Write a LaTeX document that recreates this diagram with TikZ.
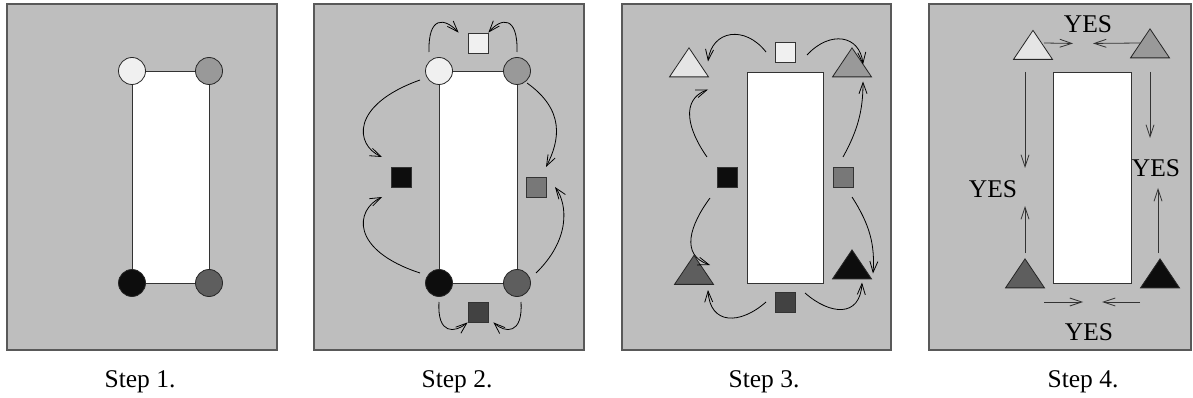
\documentclass[tikz,border=0pt]{standalone}
\usepackage{fontspec}
\setmainfont{Liberation Serif}
\usetikzlibrary{arrows.meta,calc,shapes.geometric}
\pgfdeclarelayer{bg}\pgfdeclarelayer{mid}\pgfsetlayers{bg,mid,main}
\definecolor{panel}{gray}{0.745}
\definecolor{border}{gray}{0.35}
\definecolor{cwhite}{gray}{0.94}
\definecolor{cgray}{gray}{0.6}
\definecolor{cdark}{gray}{0.37}
\definecolor{cblack}{gray}{0.05}
\definecolor{sqgray}{gray}{0.47}
\definecolor{sqdark}{gray}{0.26}
\definecolor{trilight}{gray}{0.9}
\tikzset{
  circ/.style={circle, draw=black!85, line width=0.8pt, minimum size=27pt, inner sep=0pt},
  sq/.style={rectangle, draw=black!80, line width=0.8pt, minimum size=20pt, inner sep=0pt},
  tri/.style={isosceles triangle, isosceles triangle stretches, shape border rotate=90,
    minimum width=39pt, minimum height=29pt, inner sep=0pt, draw=black!85, line width=0.8pt},
  panelbox/.style={fill=panel, draw=border, line width=1.2pt},
  hole/.style={fill=white, draw=black!80, line width=0.9pt},
  arr/.style={-{Straight Barb[length=11pt,width=8pt]}, line width=0.8pt},
  yesarr/.style={-{Straight Barb[length=12pt,width=8pt]}, line width=0.8pt, draw=black!80},
  lbl/.style={font=\fontsize{25.5}{30}\selectfont, anchor=base, inner sep=0pt},
}
\begin{document}
\begin{tikzpicture}[x=1pt,y=-1pt]
\useasboundingbox (0,0) rectangle (1193,398);
% panels
\begin{pgfonlayer}{bg}
\draw[panelbox] (7,4) rectangle (277,350);
\draw[panelbox] (314,4) rectangle (584,350);
\draw[panelbox] (622,4) rectangle (891,350);
\draw[panelbox] (929,4) rectangle (1191,350);
\end{pgfonlayer}
% captions
\node[lbl] (c1) at (140,387) {Step 1.};
\node[lbl] (c2) at (457,387) {Step 2.};
\node[lbl] (c3) at (764,387) {Step 3.};
\node[lbl] (c4) at (1083,387) {Step 4.};

% ---------- Step 1
\node[circ, fill=cwhite] (w1) at (132,71) {};
\node[circ, fill=cgray]  (g1) at (209,71) {};
\node[circ, fill=cblack] (b1) at (132,283) {};
\node[circ, fill=cdark]  (d1) at (209,283) {};
\begin{pgfonlayer}{mid}
\draw[hole] (w1.center) -- (g1.center) -- (d1.center) -- (b1.center) -- cycle;
\end{pgfonlayer}

% ---------- Step 2
\node[circ, fill=cwhite] (w2) at (439,71) {};
\node[circ, fill=cgray]  (g2) at (517,71) {};
\node[circ, fill=cblack] (b2) at (439,283) {};
\node[circ, fill=cdark]  (d2) at (517,283) {};
\begin{pgfonlayer}{mid}
\draw[hole] (w2.center) -- (g2.center) -- (d2.center) -- (b2.center) -- cycle;
\end{pgfonlayer}
\node[sq, fill=cwhite] (s2t) at (478,43) {};
\node[sq, fill=cblack] (s2l) at (401,177) {};
\node[sq, fill=sqgray] (s2r) at (536,187) {};
\node[sq, fill=sqdark] (s2b) at (478,312) {};
\draw[arr] ($(w2)+(-10,-19)$) .. controls ($(w2)+(-11,-56)$) and ($(w2)+(6,-53)$) .. ($(s2t.north west)+(-9,0)$);
\draw[arr] ($(g2)+(0,-19)$) .. controls ($(g2)+(1,-56)$) and ($(g2)+(-16,-53)$) .. (s2t.north east);
\draw[arr] ($(w2)+(-19,9)$) .. controls ($(w2)+(-89,34)$) and ($(w2)+(-84,74)$) .. ($(s2l)+(-19,-20)$);
\draw[arr] ($(b2)+(-19,-10)$) .. controls ($(b2)+(-89,-33)$) and ($(b2)+(-84,-73)$) .. ($(s2l)+(-19,20)$);
\draw[arr] ($(g2)+(10,12)$) .. controls ($(g2)+(48,39)$) and ($(g2)+(43,69)$) .. ($(s2r)+(10,-20)$);
\draw[arr] ($(d2)+(19,-10)$) .. controls ($(d2)+(53,-43)$) and ($(d2)+(51,-78)$) .. ($(s2r)+(19,0)$);
\draw[arr] ($(b2)+(0,19)$) .. controls ($(b2)+(-2,52)$) and ($(b2)+(16,50)$) .. (s2b.south west);
\draw[arr] ($(d2)+(4,19)$) .. controls ($(d2)+(6,52)$) and ($(d2)+(-12,50)$) .. ($(s2b.south east)+(5,0)$);

% ---------- Step 3
\node[tri, fill=trilight] (t3a) at (689,66.5) {};
\node[tri, fill=cgray]    (t3b) at (852,66.5) {};
\node[tri, fill=cdark]    (t3c) at (694,274) {};
\node[tri, fill=cblack]   (t3d) at (852,268.5) {};
\node[sq, fill=cwhite] (s3t) at (785,52) {};
\node[sq, fill=cblack] (s3l) at (727,177) {};
\node[sq, fill=sqgray] (s3r) at (843,177) {};
\node[sq, fill=sqdark] (s3b) at (785,302) {};
\coordinate (r3a) at (747,72);
\coordinate (r3b) at (823,283);
\draw[hole] (r3a) rectangle (r3b);
\draw[arr] ($(s3t)+(-19,0)$) .. controls ($(s3t)+(-40,-27)$) and ($(s3t)+(-73,-22)$) .. ($(t3a)+(19,-5)$);
\draw[arr] ($(s3t)+(22,3)$) .. controls ($(s3t)+(45,-22)$) and ($(s3t)+(75,-17)$) .. ($(t3b)+(11,-2)$);
\draw[arr] ($(s3l)+(-20,-20)$) .. controls ($(s3l)+(-39,-47)$) and ($(s3l)+(-47,-77)$) .. ($(t3a)+(19,23)$);
\draw[arr] ($(s3l)+(-17,21)$) .. controls ($(s3l)+(-37,48)$) and ($(s3l)+(-47,78)$) .. ($(t3c)+(16,-9)$);
\draw[arr] ($(s3r)+(0,-20)$) .. controls ($(s3r)+(15,-47)$) and ($(s3r)+(20,-67)$) .. ($(t3b)+(11,15)$);
\draw[arr] ($(s3r)+(9,20)$) .. controls ($(s3r)+(27,48)$) and ($(s3r)+(32,68)$) .. ($(t3d)+(21,5)$);
\draw[arr] ($(s3b)+(-19,0)$) .. controls ($(s3b)+(-45,23)$) and ($(s3b)+(-75,23)$) .. ($(t3c)+(14,16)$);
\draw[arr] ($(s3b)+(20,-9)$) .. controls ($(s3b)+(45,13)$) and ($(s3b)+(75,16)$) .. ($(t3d)+(10,14)$);

% ---------- Step 4
\node[tri, fill=trilight] (t4a) at (1033,49) {};
\node[tri, fill=cgray]    (t4b) at (1150,47.5) {};
\node[tri, fill=cdark]    (t4c) at (1025,277.5) {};
\node[tri, fill=cblack]   (t4d) at (1160,277.5) {};
\coordinate (r4a) at (1053,72);
\coordinate (r4b) at (1131,283);
\draw[hole] (r4a) rectangle (r4b);
\node[lbl] (y1) at (1088,33) {YES};
\node[lbl] (y2) at (993,197) {YES};
\node[lbl] (y3) at (1156,177) {YES};
\node[lbl] (y4) at (1089,340) {YES};
\draw[yesarr] ($(t4a)+(11,-6)$) -- ($(y1.south)+(-15,10)$);
\draw[yesarr] ($(t4b)+(-10,-4.5)$) -- ($(y1.south)+(5,10)$);
\draw[yesarr] ($(t4c)+(0,-205.5)$) -- ($(t4c)+(0,-109.5)$);
\draw[yesarr] ($(t4c)+(0,-24.5)$) -- ($(t4c)+(0,-71.5)$);
\draw[yesarr] ($(t4b)+(0,24.5)$) -- ($(t4b)+(0,90.5)$);
\draw[yesarr] ($(t4d)+(-2,-24.5)$) -- ($(t4d)+(-2,-89.5)$);
\draw[yesarr] ($(t4c)+(19,24.5)$) -- ($(t4c)+(58,24.5)$);
\draw[yesarr] ($(t4d)+(-20,24.5)$) -- ($(t4d)+(-58,24.5)$);
\end{tikzpicture}
\end{document}
